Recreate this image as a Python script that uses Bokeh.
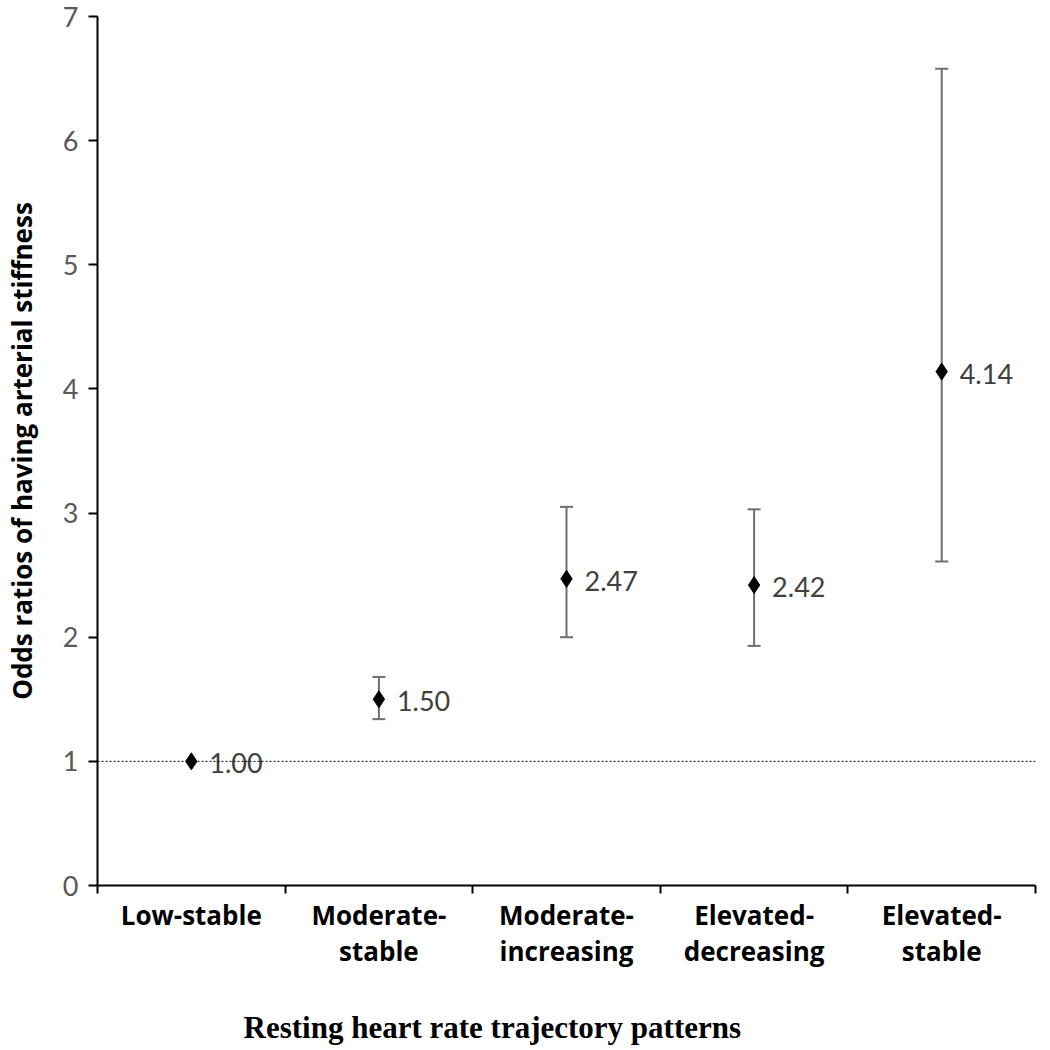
from bokeh.plotting import figure
from bokeh.models import Range1d, FixedTicker, Span, Title, ColumnDataSource, Whisker
from bokeh.embed import file_html
from bokeh.resources import INLINE

categories = ["Low-stable", "Moderate-\nstable", "Moderate-\nincreasing", "Elevated-\ndecreasing", "Elevated-\nstable"]
odds = [1.00, 1.50, 2.47, 2.42, 4.14]
lower = [None, 1.34, 2.00, 1.93, 2.61]
upper = [None, 1.68, 3.05, 3.03, 6.58]
labels = ["1.00", "1.50", "2.47", "2.42", "4.14"]
y_ticks = [0, 1, 2, 3, 4, 5, 6, 7]

xs = [i + 0.5 for i in range(len(categories))]

p = figure(frame_width=938, frame_height=869, output_backend="svg", toolbar_location=None,
           x_range=Range1d(0, 5), y_range=Range1d(0, 7),
           min_border_left=93, min_border_top=16, min_border_right=5, min_border_bottom=5)
p.outline_line_color = None
p.xgrid.visible = False
p.ygrid.visible = False
p.background_fill_color = "white"
p.border_fill_color = "white"

# x axis
p.xaxis.ticker = FixedTicker(ticks=xs, minor_ticks=list(range(len(categories) + 1)))
p.xaxis.major_label_overrides = {x: c for x, c in zip(xs, categories)}
p.xaxis.major_tick_line_color = None
p.xaxis.major_tick_out = 6
p.xaxis.major_tick_in = 0
p.xaxis.minor_tick_line_color = "black"
p.xaxis.minor_tick_line_width = 2
p.xaxis.minor_tick_out = 8
p.xaxis.minor_tick_in = 0
p.xaxis.axis_line_color = "black"
p.xaxis.axis_line_width = 2
p.xaxis.major_label_text_font = "Open Sans"
p.xaxis.major_label_text_font_style = "bold"
p.xaxis.major_label_text_font_size = "26px"
p.xaxis.major_label_text_color = "black"
p.xaxis.major_label_text_line_height = 1.0
p.xaxis.major_label_standoff = 3
p.xaxis.major_label_orientation = "horizontal"

# y axis
p.yaxis.ticker = FixedTicker(ticks=y_ticks, minor_ticks=[])
p.yaxis.major_tick_line_color = "black"
p.yaxis.major_tick_line_width = 2
p.yaxis.major_tick_out = 9
p.yaxis.major_tick_in = 0
p.yaxis.axis_line_color = "black"
p.yaxis.axis_line_width = 2
p.yaxis.major_label_text_font = "Lato"
p.yaxis.major_label_text_font_size = "27px"
p.yaxis.major_label_text_color = "#595959"
p.yaxis.major_label_standoff = 10
p.yaxis.axis_label = "Odds ratios of having arterial stiffness"
p.yaxis.axis_label_text_font = "Open Sans"
p.yaxis.axis_label_text_font_style = "bold"
p.yaxis.axis_label_text_font_size = "26px"
p.yaxis.axis_label_text_color = "black"
p.yaxis.axis_label_standoff = 20

# reference line
p.add_layout(Span(location=1, dimension="width", line_color="black", line_width=1, line_dash="2 2"))

# error bars
ex = [x for x, l in zip(xs, lower) if l is not None]
el = [l for l in lower if l is not None]
eu = [u for u in upper if u is not None]
esrc = ColumnDataSource(dict(x=ex, lower=el, upper=eu))
w = Whisker(base="x", lower="lower", upper="upper", source=esrc, dimension="height",
            line_color="#6e6e6e", line_width=2)
for h in (w.upper_head, w.lower_head):
    h.size = 13
    h.line_color = "#6e6e6e"
    h.line_width = 2
p.add_layout(w)

src = ColumnDataSource(dict(x=xs, y=odds, lab=labels))
p.scatter("x", "y", source=src, marker="diamond", size=17, fill_color="black", line_color="black")
p.text("x", "y", text="lab", source=src, x_offset=18, y_offset=2, text_baseline="middle",
       text_align="left", text_font_size="27px", text_color="#404040", text_font={"value": "Lato"})

spacer = Title(text=" ", text_font_size="6px", standoff=0)
p.add_layout(spacer, "below")
t = Title(text="Resting heart rate trajectory patterns", align="left", offset=146,
          text_font="Liberation Serif", text_font_style="bold", text_font_size="31px",
          text_color="black", standoff=57)
p.add_layout(t, "below")

open("out.html", "w").write(file_html(p, INLINE))
